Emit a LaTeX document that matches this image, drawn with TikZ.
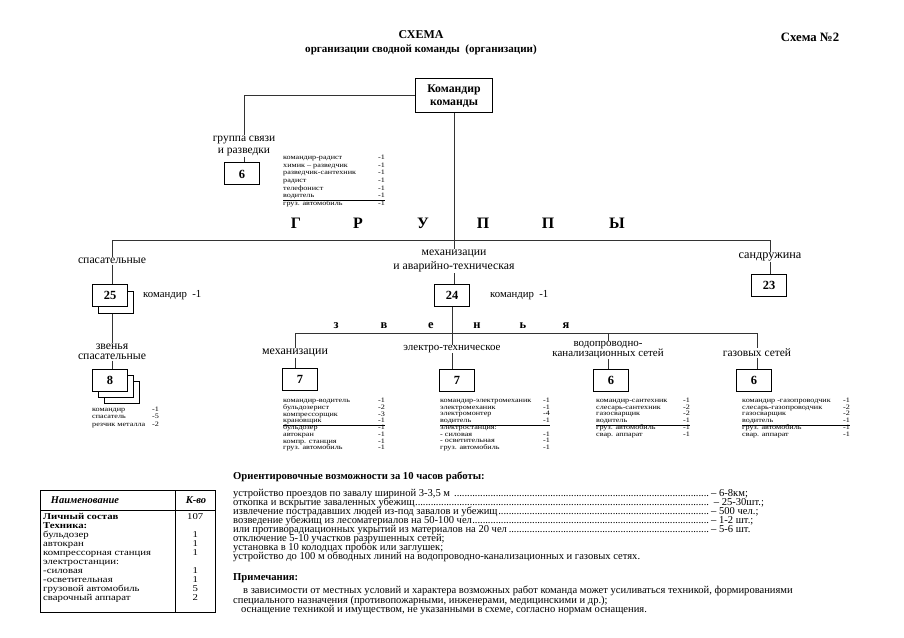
\documentclass[tikz,border=0pt]{standalone}
\usepackage{fontspec}
\setmainfont{Liberation Serif}
\newfontfamily\widefont[FakeStretch=1.2]{Liberation Serif}
\usepackage{array}
\newcommand\dotrow[2]{\makebox[478bp][l]{#1\leaders\hbox to 2.6bp{\hss.\hss}\hfill}#2}
\begin{document}
\begin{tikzpicture}[x=1bp,y=-1bp,
  conn/.style={draw=black!80, line width=1bp},
  box/.style={draw=black, line width=1bp, fill=white, minimum width=35bp, minimum height=22bp, inner sep=0pt, font=\fontsize{12.5}{13}\selectfont\bfseries},
  lbl/.style={align=center, inner sep=0.5bp, font=\fontsize{11.8}{11}\selectfont},
  lst/.style={anchor=north west, inner sep=0pt, font=\widefont\fontsize{6.8}{6.6}\selectfont},
  txt/.style={anchor=west, inner sep=0pt, font=\fontsize{10.6}{10}\selectfont},
  big/.style={inner sep=0pt, font=\fontsize{16}{16}\selectfont\bfseries},
  mid/.style={inner sep=0pt, font=\fontsize{12.5}{12}\selectfont\bfseries},
  kmd/.style={anchor=west, inner sep=0pt, font=\fontsize{10.8}{11}\selectfont},
]
\path[use as bounding box, fill=white] (0,0) rectangle (904,638);
% title
\node[inner sep=0pt, font=\fontsize{12}{12}\selectfont\bfseries] (T1) at (421,35) {СХЕМА};
\node[inner sep=0pt, font=\fontsize{11.1}{12}\selectfont\bfseries] (T2) at (421,50) {организации сводной команды \ (организации)};
\node[inner sep=0pt, font=\fontsize{12.8}{13}\selectfont\bfseries] (T3) at (810,37) {Схема №2};
% commander
\node[draw, line width=1bp, minimum width=77bp, minimum height=34bp, align=center, inner sep=0pt, font=\fontsize{11.8}{13}\selectfont\bfseries] (cmd) at (454,96) {Командир\\команды};
% svyaz
\node[lbl, font=\fontsize{11.5}{12}\selectfont] (Lsv) at (244,146) {группа связи\\и разведки};
\node[box] (Bsv) at (242,174) {6};
\draw[conn] (cmd.west) -| (Lsv.north);
\draw[conn] (Lsv.south) -- (Lsv.south |- Bsv.north);
\node[lst, font=\widefont\fontsize{6.8}{7.7}\selectfont] (Lsvl) at (283,154) {\begin{tabular}{@{}p{95bp}@{}l@{}}
командир-радист & -1\\
химик – разведчик & -1\\
разведчик-сантехник & -1\\
радист & -1\\
телефонист & -1\\
водитель & -1\\\hline
груз. автомобиль & -1
\end{tabular}};
% groups
\node[big] (G1) at (296,223) {Г};
\node[big] (G2) at (358,223) {Р};
\node[big] (G3) at (423,223) {У};
\node[big] (G4) at (483,223) {П};
\node[big] (G5) at (548,223) {П};
\node[big] (G6) at (617,223) {Ы};
\coordinate (bar) at (0,241);
\node[lbl] (Lsp) at (112,261) {спасательные};
\node[lbl, font=\fontsize{12.3}{12}\selectfont] (Lsd) at (770,257) {сандружина};
\node[lbl, font=\fontsize{11.8}{15}\selectfont] (Lmid) at (454,261) {механизации\\и аварийно-техническая};
\draw[conn] (Lsp.north) -- (Lsp.north |- bar) -- (Lsd.north |- bar) -- (Lsd.north);
\draw[conn] (cmd.south) -- (Lmid.north);
% rescuers
\node[box] (Bsp2) at (116,302) {};
\node[box] (Bsp) at (110,295) {25};
\node[kmd] (Ksp) at (143,295) {командир \ -1};
\draw[conn] (Lsp.south) -- (Lsp.south |- Bsp.north);
\node[lbl, font=\fontsize{11.8}{10.5}\selectfont] (Lzv) at (112,352) {звенья\\спасательные};
\draw[conn] (Bsp2.south -| Lzv.north) -- (Lzv.north);
\node[box] (B8c) at (122,392) {};
\node[box] (B8b) at (116,386) {};
\node[box] (B8) at (110,380) {8};
\draw[conn] (Lzv.south) -- (Lzv.south |- B8.north);
\node[lst, font=\widefont\fontsize{6.8}{7.5}\selectfont] (L8) at (92,406) {\begin{tabular}{@{}p{60bp}@{}l@{}}
командир & -1\\
спасатель & -5\\
резчик металла & -2
\end{tabular}};
% mechanization group
\node[box] (B24) at (452,295) {24};
\node[kmd] (K24) at (490,295) {командир \ -1};
\draw[conn] (Lmid.south) -- (Lmid.south |- B24.north);
% sandruzhina
\node[box] (Bsd) at (769,285) {23};
\draw[conn] (Lsd.south) -- (Lsd.south |- Bsd.north);
% zvenya
\node[mid] (Z1) at (336,326) {з};
\node[mid] (Z2) at (384,326) {в};
\node[mid] (Z3) at (431,326) {е};
\node[mid] (Z4) at (477,326) {н};
\node[mid] (Z5) at (523,326) {ь};
\node[mid] (Z6) at (566,326) {я};
\coordinate (zbar) at (0,333);
\node[lbl, font=\fontsize{12}{12}\selectfont] (Lm) at (295,353) {механизации};
\node[lbl, font=\fontsize{11}{10}\selectfont] (Le) at (452,349) {электро-техническое};
\node[lbl, font=\fontsize{11}{10}\selectfont] (Lv) at (608,350) {водопроводно-\\канализационных сетей};
\node[lbl, font=\fontsize{11.5}{11}\selectfont] (Lg) at (757,353) {газовых сетей};
\draw[conn] (B24.south) -- (B24.south |- zbar);
\draw[conn] (Lm.north) -- (Lm.north |- zbar) -- (Lg.north |- zbar) -- (Lg.north);
\draw[conn] (Le.north) -- (Le.north |- zbar);
\draw[conn] (Lv.north) -- (Lv.north |- zbar);
\node[box] (Bm) at (300,379) {7};
\node[box] (Be) at (457,380) {7};
\node[box] (Bv) at (611,380) {6};
\node[box] (Bg) at (754,380) {6};
\draw[conn] (Lm.south) -- (Lm.south |- Bm.north);
\draw[conn] (Le.south) -- (Le.south |- Be.north);
\draw[conn] (Lv.south) -- (Lv.south |- Bv.north);
\draw[conn] (Lg.south) -- (Lg.south |- Bg.north);
\node[lst] (Lml) at (283,398) {\begin{tabular}{@{}p{95bp}@{}l@{}}
командир-водитель & -1\\
бульдозерист & -2\\
компрессорщик & -3\\
крановщик & -1\\\hline
бульдозер & -1\\
автокран & -1\\
компр. станция & -1\\
груз. автомобиль & -1
\end{tabular}};
\node[lst] (Lel) at (440,398) {\begin{tabular}{@{}p{103bp}@{}l@{}}
командир-электромеханик & -1\\
электромеханик & -1\\
электромонтер & -4\\
водитель & -1\\\hline
электростанция: & \\
- силовая & -1\\
- осветительная & -1\\
груз. автомобиль & -1
\end{tabular}};
\node[lst] (Lvl) at (596,398) {\begin{tabular}{@{}p{87bp}@{}l@{}}
командир-сантехник & -1\\
слесарь-сантехник & -2\\
газосварщик & -2\\
водитель & -1\\\hline
груз. автомобиль & -1\\
свар. аппарат & -1
\end{tabular}};
\node[lst] (Lgl) at (742,398) {\begin{tabular}{@{}p{101bp}@{}l@{}}
командир -газопроводчик & -1\\
слесарь-газопроводчик & -2\\
газосварщик & -2\\
водитель & -1\\\hline
груз. автомобиль & -1\\
свар. аппарат & -1
\end{tabular}};
% table
\node[draw, line width=0.8bp, minimum width=175bp, minimum height=122bp, anchor=north west, inner sep=0pt] (tbl) at (40,490) {};
\draw[line width=0.6bp] (40,510) -- (215,510);
\draw[line width=0.6bp] (175,490) -- (175,612);
\node[inner sep=0pt, font=\fontsize{10.5}{10}\selectfont\bfseries\itshape] (th1) at (85,500) {Наименование};
\node[inner sep=0pt, font=\fontsize{10.5}{10}\selectfont\bfseries\itshape] (th2) at (196,500) {К-во};
\node[anchor=north west, inner sep=0pt, font=\widefont\fontsize{9}{9}\selectfont] (tb) at (43,513) {\begin{tabular}{@{}p{132bp}@{}>{\centering\arraybackslash}p{40bp}@{}}
\textbf{Личный состав} & 107\\
\textbf{Техника:} & \\
бульдозер & 1\\
автокран & 1\\
компрессорная станция & 1\\
электростанции: & \\
-силовая & 1\\
-осветительная & 1\\
грузовой автомобиль & 5\\
сварочный аппарат & 2
\end{tabular}};
% text
\node[txt, font=\fontsize{10.7}{10}\selectfont\bfseries] (h1) at (233,477) {Ориентировочные возможности за 10 часов работы:};
\node[txt] (r1) at (233,494) {\dotrow{устройство проездов по завалу шириной 3-3,5 м }{– 6-8км;}};
\node[txt] (r2) at (233,503) {\dotrow{откопка и вскрытие заваленных убежищ}{ – 25-30шт.;}};
\node[txt] (r3) at (233,512) {\dotrow{извлечение пострадавших людей из-под завалов и убежищ}{– 500 чел.;}};
\node[txt] (r4) at (233,521) {\dotrow{возведение убежищ из лесоматериалов на 50-100 чел}{– 1-2 шт.;}};
\node[txt] (r5) at (233,530) {\dotrow{или противорадиационных укрытий из материалов на 20 чел}{– 5-6 шт.}};
\node[txt] (r6) at (233,539) {отключение 5-10 участков разрушенных сетей;};
\node[txt] (r7) at (233,548) {установка в 10 колодцах пробок или заглушек;};
\node[txt] (r8) at (233,557) {устройство до 100 м обводных линий на водопроводно-канализационных и газовых сетях.};
\node[txt, font=\fontsize{10.7}{10}\selectfont\bfseries] (h2) at (233,578) {Примечания:};
\node[txt] (n1) at (243,591) {в зависимости от местных условий и характера возможных работ команда может усиливаться техникой, формированиями};
\node[txt] (n2) at (233,601) {специального назначения (противопожарными, инженерами, медицинскими и др.);};
\node[txt] (n3) at (241,610) {оснащение техникой и имуществом, не указанными в схеме, согласно нормам оснащения.};
\end{tikzpicture}
\end{document}
